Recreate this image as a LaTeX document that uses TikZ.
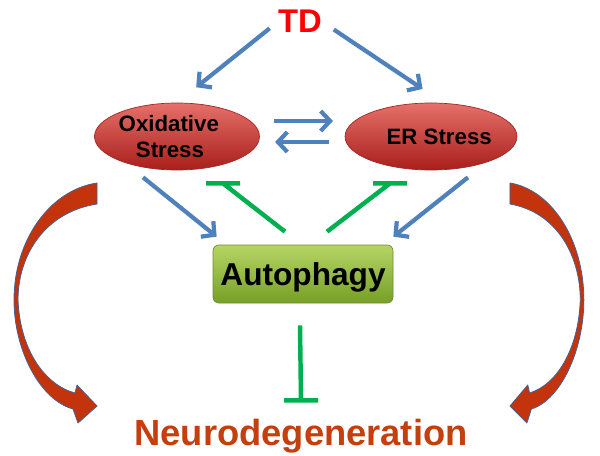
\documentclass[tikz,border=0pt]{standalone}
\usepackage{fontspec}
\setmainfont{Liberation Sans}
\usetikzlibrary{shapes.geometric,arrows.meta,calc}

\definecolor{actblue}{RGB}{79,129,189}
\definecolor{inhgreen}{RGB}{0,176,80}
\definecolor{neurored}{RGB}{197,62,14}
\definecolor{stresstop}{RGB}{230,112,106}
\definecolor{stressmid}{RGB}{206,50,46}
\definecolor{stressbot}{RGB}{168,30,26}
\definecolor{stressedge}{RGB}{160,40,38}
\definecolor{autotop}{RGB}{182,212,100}
\definecolor{autobot}{RGB}{118,160,40}
\definecolor{autoedge}{RGB}{110,140,55}
\definecolor{bendfill}{RGB}{195,52,12}
\definecolor{bendedge}{RGB}{75,95,140}

\begin{document}
\begin{tikzpicture}[x=0.03cm,y=-0.03cm,
  stress/.style={ellipse,draw=stressedge,line width=0.6pt,top color=stresstop,middle color=stressmid,bottom color=stressbot,inner sep=0pt,align=center,font=\fontsize{19}{22}\selectfont\bfseries},
  act/.style={-{Straight Barb[length=8pt,width=17pt]},actblue,line width=3.6pt},
  inh/.style={inhgreen,line width=3.8pt},
  bendarrow/.style={fill=bendfill,draw=bendedge,line width=0.7pt,line join=round}]
\useasboundingbox (0,0) rectangle (600,455);

\node[anchor=base,inner sep=0pt,text=red,font=\fontsize{28}{30}\selectfont\bfseries] (td) at (300,33) {TD};
\node[stress,minimum width=4.83cm,minimum height=2.01cm] (ox) at (177,136.5) {Oxidative\hspace*{14pt}\\Stress\hspace*{12pt}};
\node[stress,minimum width=4.56cm,minimum height=2.01cm] (er) at (431,136.5) {\hspace*{14pt}ER Stress};
\node[rectangle,rounded corners=5pt,draw=autoedge,line width=0.6pt,top color=autotop,bottom color=autobot,
  minimum width=5.4cm,minimum height=1.74cm,text height=19.5pt,text depth=0pt,
  font=\fontsize{27}{29}\selectfont\bfseries] (auto) at (303,274) {Autophagy};
\node[anchor=base,inner sep=0pt,text=neurored,font=\fontsize{31}{33}\selectfont\bfseries] (neuro) at (301,445) {Neurodegeneration};

% TD acts on both stresses
\draw[act,shorten <=9pt,shorten >=21pt] (td.west) -- (ox.north);
\draw[act,shorten <=12pt,shorten >=21pt] (td.east) -- ($(er.north)+(12,0)$);

% cross talk
\draw[act,shorten <=12pt,shorten >=10pt] ($(ox.east)+(0,-15.5)$) -- ($(er.west)+(0,-15.5)$);
\draw[act,shorten <=13pt,shorten >=13pt] ($(er.west)+(0,5.5)$) -- ($(ox.east)+(0,5.5)$);

\draw[act] ($(ox.south)+(-34,7)$) -- ($(auto.north west)+(4,-8)$);
\draw[act] ($(er.south)+(37,7)$) -- ($(auto.north east)+(0,-8)$);

% inhibition
\draw[inh] ($(auto.north)+(-18,-13)$) -- ($(ox.south)+(46,13)$) +(-17,0) -- +(17,0);
\draw[inh] ($(auto.north)+(24,-13)$) -- ($(er.south)+(-41,13)$) +(-17,0) -- +(17,0);
\draw[inh] ($(auto.south)+(-3,22)$) -- ($(neuro.north)+(0,-18)$) +(-17,0) -- +(17,0);

% curved block arrows
\filldraw[bendarrow] (97,183) .. controls (50,190) and (14,240) .. (14,300)
  .. controls (14,350) and (40,400) .. (73,409) -- (78,423) -- (97,406) -- (77,385) -- (75,393)
  .. controls (45,385) and (20,350) .. (18,300) .. controls (18,255) and (45,212) .. (97,204) -- cycle;
\begin{scope}[shift={(596.3,0)},xscale=-0.89]
\filldraw[bendarrow] (97,183) .. controls (50,190) and (14,240) .. (14,300)
  .. controls (14,350) and (40,400) .. (73,409) -- (78,423) -- (97,406) -- (77,385) -- (75,393)
  .. controls (45,385) and (20,350) .. (18,300) .. controls (18,255) and (45,212) .. (97,204) -- cycle;
\end{scope}
\end{tikzpicture}
\end{document}
